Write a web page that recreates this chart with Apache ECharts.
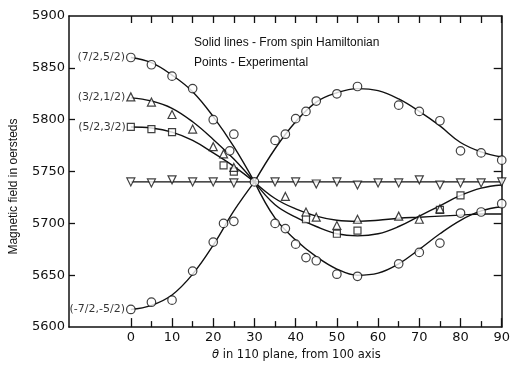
<!DOCTYPE html>
<html>
<head>
<meta charset="utf-8">
<script src="https://cdn.jsdelivr.net/npm/echarts@6/dist/echarts.min.js"></script>
<style>
  html, body { margin: 0; padding: 0; background: #fff; }
  #chart { width: 513px; height: 366px; }
</style>
</head>
<body>
<div id="chart"></div>
<script>
// theta values for the computed curves (deg)
const angles = [0, 5, 10, 15, 20, 25, 30, 35, 40, 45, 50, 55, 60, 65, 70, 75, 80, 85, 90];

// spin Hamiltonian curves (oersteds)
const curve7252 = [5860, 5855, 5843, 5827, 5803, 5774, 5740, 5772, 5798, 5817, 5826, 5830, 5828, 5820, 5808, 5794, 5778, 5769, 5764];
const curve3212 = [5821, 5818, 5811, 5798, 5781, 5762, 5740, 5724, 5714, 5707, 5703, 5702, 5703, 5705, 5706, 5707, 5708, 5709, 5709];
const curve5232 = [5793, 5792, 5788, 5780, 5768, 5755, 5740, 5718, 5706, 5697, 5690, 5688, 5690, 5697, 5707, 5717, 5727, 5734, 5737];
const curveM7252 = [5617, 5621, 5631, 5651, 5679, 5712, 5740, 5705, 5684, 5668, 5656, 5650, 5652, 5661, 5675, 5690, 5703, 5712, 5716];
const curveFlat = [5740, 5740, 5740, 5740, 5740, 5740, 5740, 5740, 5740, 5740, 5740, 5740, 5740, 5740, 5740, 5740, 5740, 5740, 5740];

// experimental points [theta, field]
const pts7252 = [[0, 5860], [5, 5853], [10, 5842], [15, 5830], [20, 5800], [24, 5770], [25, 5786], [30, 5740],
  [35, 5780], [37.5, 5786], [40, 5801], [42.5, 5808], [45, 5818], [50, 5825], [55, 5832], [65, 5814], [70, 5808],
  [75, 5799], [80, 5770], [85, 5768], [90, 5761]];
const pts3212 = [[0, 5822], [5, 5817], [10, 5805], [15, 5791], [20, 5774], [22.5, 5767], [25, 5754],
  [37.5, 5726], [42.5, 5711], [45, 5706], [50, 5698], [55, 5704], [65, 5707], [70, 5704], [75, 5714]];
const pts5232 = [[0, 5793], [5, 5791], [10, 5788], [22.5, 5756], [25, 5750], [42.5, 5704], [50, 5690], [55, 5693],
  [75, 5713], [80, 5727]];
const ptsM7252 = [[0, 5617], [5, 5624], [10, 5626], [15, 5654], [20, 5682], [22.5, 5700], [25, 5702],
  [35, 5700], [37.5, 5695], [40, 5680], [42.5, 5667], [45, 5664], [50, 5651], [55, 5649], [65, 5661], [70, 5672],
  [75, 5681], [80, 5710], [85, 5711], [90, 5719]];
const ptsFlat = [[0, 5740], [5, 5739], [10, 5742], [15, 5740], [20, 5740], [25, 5739], [35, 5740], [40, 5740],
  [45, 5738], [50, 5740], [55, 5737], [60, 5739], [65, 5739], [70, 5742], [75, 5737], [80, 5739], [85, 5739], [90, 5740]];

const labelNames = ['(7/2,5/2)', '(3/2,1/2)', '(5/2,3/2)', '(-7/2,-5/2)'];

const majorTicks = [0, 10, 20, 30, 40, 50, 60, 70, 80, 90];
const minorTicks = [5, 15, 25, 35, 45, 55, 65, 75, 85];
const allTicks = [0, 5, 10, 15, 20, 25, 30, 35, 40, 45, 50, 55, 60, 65, 70, 75, 80, 85, 90];
const yTicks = [5650, 5700, 5750, 5800, 5850];

const FONT = 'DejaVu Sans';
const SANS = 'Liberation Sans';
const INK = '#111';

// split a curve at 30 deg so the crossing stays a sharp corner
function curveSeries(vals) {
  const left = [], right = [];
  angles.forEach((a, i) => {
    if (a <= 30) left.push([a, vals[i]]);
    if (a >= 30) right.push([a, vals[i]]);
  });
  return [left, right].map(d => ({
    type: 'line', data: d, smooth: 0.4, symbol: 'none', silent: true,
    lineStyle: { color: INK, width: 1.4 }, z: 2
  }));
}

function pointSeries(data, symbol, size, rotate, name) {
  return {
    type: 'scatter',
    data: data.map((p, i) => ({
      value: p,
      label: (name && i === 0) ? {
        show: true, position: 'left', distance: 1, formatter: name,
        color: '#000', fontFamily: FONT, fontSize: 11, textBorderWidth: 0
      } : { show: false }
    })),
    symbol: symbol,
    symbolSize: size,
    symbolRotate: rotate,
    itemStyle: { color: '#fff', borderColor: INK, borderWidth: 1.2 },
    z: 3
  };
}

const series = [].concat(
  curveSeries(curve7252),
  curveSeries(curve3212),
  curveSeries(curve5232),
  curveSeries(curveM7252),
  curveSeries(curveFlat),
  [
    pointSeries(ptsFlat, 'triangle', 8, 180, null),
    pointSeries(pts5232, 'rect', 7, 0, labelNames[2]),
    pointSeries(pts3212, 'triangle', 8, 0, labelNames[1]),
    pointSeries(pts7252, 'circle', 8.5, 0, labelNames[0]),
    pointSeries(ptsM7252, 'circle', 8.5, 0, labelNames[3])
  ]
);

const axisLine = { show: true, onZero: false, lineStyle: { color: INK, width: 1.5 } };

const chart = echarts.init(document.getElementById('chart'));
chart.setOption({
  animation: false,
  backgroundColor: '#fff',
  grid: { left: 67, right: 6, top: 16, bottom: 34 },
  xAxis: [
    {
      type: 'value', min: -15, max: 90, position: 'bottom',
      axisLine: axisLine,
      axisTick: { show: true, inside: true, length: 9, customValues: majorTicks, lineStyle: { color: INK, width: 1.3 } },
      axisLabel: { customValues: majorTicks, margin: 4, color: INK, fontFamily: FONT, fontSize: 13 },
      splitLine: { show: false },
      name: '{i|θ} in 110 plane, from 100 axis',
      nameLocation: 'middle', nameGap: 21,
      nameTextStyle: {
        color: INK, fontFamily: FONT, fontSize: 11.5, padding: [0, 0, 0, 22],
        rich: { i: { fontStyle: 'italic', fontFamily: FONT, fontSize: 11.5, color: INK } }
      }
    },
    {
      type: 'value', min: -15, max: 90, position: 'bottom',
      axisLine: { show: false },
      axisTick: { show: true, inside: true, length: 6, customValues: minorTicks, lineStyle: { color: INK, width: 1.3 } },
      axisLabel: { show: false },
      splitLine: { show: false }
    },
    {
      type: 'value', min: -15, max: 90, position: 'top',
      axisLine: axisLine,
      axisTick: { show: true, inside: true, length: 7, customValues: allTicks, lineStyle: { color: INK, width: 1.3 } },
      axisLabel: { show: false },
      splitLine: { show: false }
    }
  ],
  yAxis: [
    {
      type: 'value', min: 5600, max: 5900, interval: 50, position: 'left',
      axisLine: axisLine,
      axisTick: { show: true, inside: true, length: 6, customValues: yTicks, lineStyle: { color: INK, width: 1.3 } },
      axisLabel: { margin: 4, color: INK, fontFamily: FONT, fontSize: 13, formatter: v => String(v) },
      splitLine: { show: false },
      name: 'Magnetic field in oersteds',
      nameLocation: 'middle', nameGap: 49, nameRotate: 90,
      nameTextStyle: { color: INK, fontFamily: SANS, fontSize: 12, padding: [0, 30, 0, 0] }
    },
    {
      type: 'value', min: 5600, max: 5900, interval: 50, position: 'right',
      axisLine: axisLine,
      axisTick: { show: true, inside: true, length: 8, customValues: yTicks, lineStyle: { color: INK, width: 1.3 } },
      axisLabel: { show: false },
      splitLine: { show: false }
    }
  ],
  graphic: [
    { type: 'text', left: 194, top: 37, style: { text: 'Solid lines - From spin Hamiltonian', font: '12px "Liberation Sans"', fill: INK } },
    { type: 'text', left: 194, top: 57, style: { text: 'Points - Experimental', font: '12px "Liberation Sans"', fill: INK } }
  ],
  series: series
});
</script>
</body>
</html>
